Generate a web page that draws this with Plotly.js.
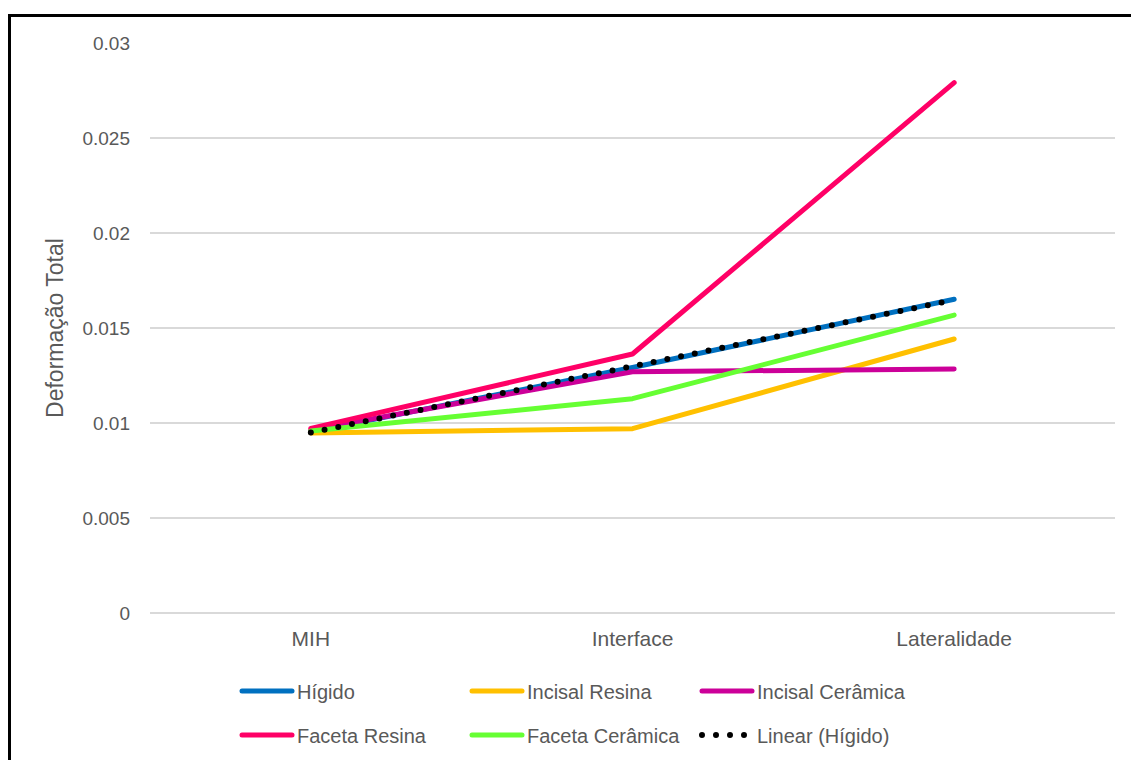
<!DOCTYPE html>
<html>
<head>
<meta charset="utf-8">
<script src="https://cdn.plot.ly/plotly-3.0.1.min.js"></script>
<style>
  html, body { margin: 0; padding: 0; background: #ffffff; }
  #wrap { position: relative; width: 1131px; height: 760px; overflow: hidden; }
  #chart { position: absolute; left: 0; top: 0; width: 1131px; height: 760px; }
  #frame { position: absolute; left: 8px; top: 14px; width: 1200px; height: 800px;
           border-left: 3px solid #000; border-top: 3px solid #000; pointer-events: none; }
  #chart .js-line { stroke-linecap: round; stroke-linejoin: round; }
</style>
</head>
<body>
<div id="wrap">
  <div id="chart"></div>
  <div id="frame"></div>
</div>
<script>
// Categories along the x axis
const categories = ['MIH', 'Interface', 'Lateralidade'];

// Total deformation per configuration
const higido          = [0.00953, 0.01292, 0.01651];
const incisalResina   = [0.00948, 0.00970, 0.01442];
const incisalCeramica = [0.00963, 0.01270, 0.01284];
const facetaResina    = [0.00972, 0.01363, 0.02791];
const facetaCeramica  = [0.00958, 0.01128, 0.01568];

// Series names
const seriesNames = ['Hígido', 'Incisal Resina', 'Incisal Cerâmica',
                     'Faceta Resina', 'Faceta Cerâmica', 'Linear (Hígido)'];

// Y tick values
const yTicks = [0, 0.005, 0.01, 0.015, 0.02, 0.025, 0.03];

// Least-squares linear trend of the Hígido series (x = 1, 2, 3)
function linearTrend(values) {
  const n = values.length;
  const xs = values.map((_, i) => i + 1);
  const mx = xs.reduce((a, b) => a + b, 0) / n;
  const my = values.reduce((a, b) => a + b, 0) / n;
  let sxy = 0, sxx = 0;
  xs.forEach((x, i) => { sxy += (x - mx) * (values[i] - my); sxx += (x - mx) * (x - mx); });
  const slope = sxy / sxx;
  const icpt = my - slope * mx;
  return xs.map(x => icpt + slope * x);
}
const higidoTrend = linearTrend(higido);

const colors = ['#0070C0', '#FFC000', '#CC0099', '#FF0066', '#66FF33', '#000000'];
const seriesData = [higido, incisalResina, incisalCeramica, facetaResina, facetaCeramica, higidoTrend];

const traces = seriesData.map((vals, i) => ({
  type: 'scatter',
  mode: 'lines',
  x: categories,
  y: vals,
  name: seriesNames[i],
  legend: i < 3 ? 'legend' : 'legend2',
  line: i === 5
    ? { color: colors[i], width: 6, dash: '0px,14px' }
    : { color: colors[i], width: 5 },
  hoverinfo: 'x+y+name'
}));

const fontFamily = '"Liberation Sans", Arial, sans-serif';
const textColor = '#595959';

const legendBase = {
  orientation: 'h',
  xref: 'container',
  yref: 'container',
  xanchor: 'left',
  yanchor: 'middle',
  entrywidth: 165,
  itemwidth: 50,
  traceorder: 'normal',
  bgcolor: 'rgba(0,0,0,0)',
  font: { family: fontFamily, size: 20, color: textColor }
};

const layout = {
  width: 1131,
  height: 760,
  margin: { l: 150, r: 16, t: 43, b: 147 },
  paper_bgcolor: '#ffffff',
  plot_bgcolor: '#ffffff',
  font: { family: fontFamily, size: 19, color: textColor },
  showlegend: true,
  xaxis: {
    type: 'category',
    range: [-0.5, 2.5],
    showgrid: false,
    showline: false,
    zeroline: false,
    ticks: '',
    ticklabelstandoff: 11,
    tickfont: { family: fontFamily, size: 21, color: textColor },
    fixedrange: true
  },
  yaxis: {
    range: [0, 0.03],
    tickvals: yTicks,
    ticktext: yTicks.map(v => String(v)),
    showgrid: true,
    gridcolor: '#d9d9d9',
    gridwidth: 1.5,
    zeroline: true,
    zerolinecolor: '#d9d9d9',
    zerolinewidth: 1.5,
    showline: false,
    ticks: '',
    ticklabelstandoff: 19,
    tickfont: { family: fontFamily, size: 19, color: textColor },
    title: { text: 'Deformação Total', font: { family: fontFamily, size: 23, color: textColor }, standoff: 12 },
    fixedrange: true
  },
  legend: Object.assign({}, legendBase, { x: 237 / 1131, y: 1 - 691 / 760 }),
  legend2: Object.assign({}, legendBase, { x: 237 / 1131, y: 1 - 735 / 760 })
};

Plotly.newPlot('chart', traces, layout, { displayModeBar: false, staticPlot: true });
</script>
</body>
</html>
